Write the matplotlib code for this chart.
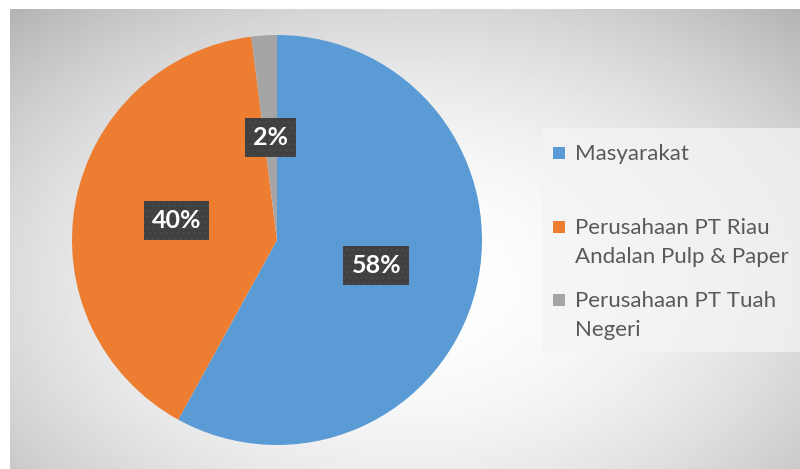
import matplotlib.pyplot as plt
import numpy as np
from matplotlib.patches import Rectangle

plt.rcParams['font.family'] = ['Lato', 'DejaVu Sans']
plt.rcParams['hatch.linewidth'] = 1.0

# share of respondents per group
categories = ['Masyarakat', 'Perusahaan PT Riau\nAndalan Pulp & Paper', 'Perusahaan PT Tuah\nNegeri']
values = [58, 40, 2]
colors = ['#5b9bd5', '#ed7d31', '#a5a5a5']

W, H = 800, 469
fig = plt.figure(figsize=(W / 100, H / 100), dpi=100)

# background panel with radial grey gradient (pixel coords, y down)
bg = fig.add_axes([0, 0, 1, 1])
bg.set_xlim(0, W)
bg.set_ylim(H, 0)
bg.axis('off')
yy, xx = np.mgrid[0:H, 0:W]
r2 = ((xx - 400) / 500.0) ** 2 + ((yy - 280) / 330.0) ** 2
shade = np.clip(1 - 0.22 * r2, 0, 1)
bg.imshow(shade, cmap='gray', vmin=0, vmax=1, extent=(10, W, H, 9), zorder=0)

# legend panel
bg.add_patch(Rectangle((542, 128), 258, 224, facecolor='#f4f4f4', alpha=0.75,
                       edgecolor='none', zorder=1))
legend_y = [153, 227, 300]
for c, lab, y in zip(colors, categories, legend_y):
    bg.add_patch(Rectangle((553, y - 6), 12, 12, facecolor=c, edgecolor='none', zorder=2))
    bg.text(575, y - 9, lab, fontsize=16, color='#595959', va='top', ha='left',
            linespacing=1.55, zorder=3)

# pie: center (277, 240), radius 205 px
cx, cy, R = 277, 240, 205
ax = fig.add_axes([(cx - R) / W, (H - cy - R) / H, 2 * R / W, 2 * R / H])
wedges, texts, autotexts = ax.pie(values, colors=colors, startangle=90, counterclock=False,
                                  radius=1, autopct='%d%%', pctdistance=0.5,
                                  wedgeprops=dict(linewidth=0))
ax.set_xlim(-1, 1)
ax.set_ylim(-1, 1)
ax.set_aspect('equal')
ax.axis('off')
for t in autotexts:
    t.set_color('white')
    t.set_fontsize(18)
    t.set_fontweight('bold')
    t.set_bbox(dict(boxstyle='square,pad=0.32', facecolor='#404040', edgecolor='#4a4a4a',
                    hatch='...', linewidth=0))

fig.savefig('out.png', dpi=100)
